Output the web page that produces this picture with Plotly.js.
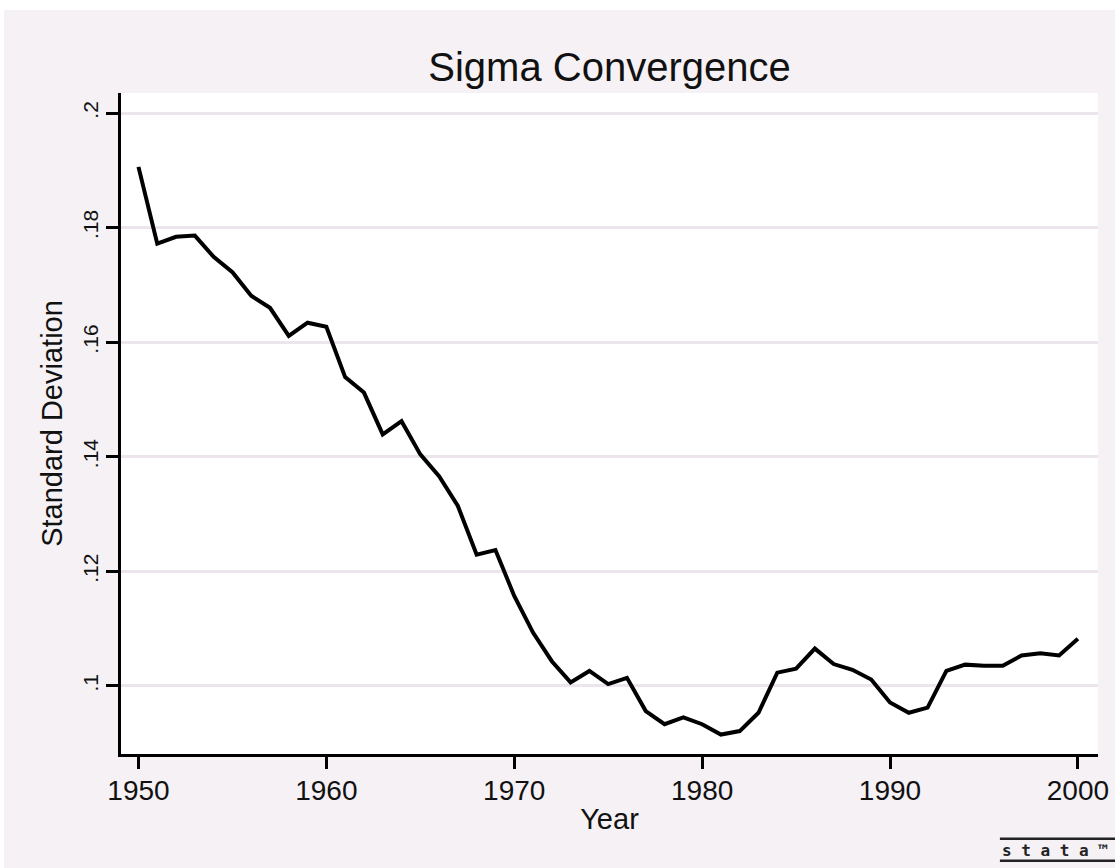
<!DOCTYPE html>
<html>
<head>
<meta charset="utf-8">
<script src="https://cdn.plot.ly/plotly-3.0.1.min.js"></script>
<style>
html,body{margin:0;padding:0;background:#ffffff;}
#chart{position:absolute;left:4px;top:10px;width:1111px;height:858px;}
</style>
</head>
<body>
<div id="chart"></div>
<script>
const years = [1950,1951,1952,1953,1954,1955,1956,1957,1958,1959,
               1960,1961,1962,1963,1964,1965,1966,1967,1968,1969,
               1970,1971,1972,1973,1974,1975,1976,1977,1978,1979,
               1980,1981,1982,1983,1984,1985,1986,1987,1988,1989,
               1990,1991,1992,1993,1994,1995,1996,1997,1998,1999,2000];
const stdDev = [0.1906,0.1772,0.1784,0.1786,0.1749,0.1722,0.1681,0.1660,0.1611,0.1634,
                0.1627,0.1539,0.1512,0.1439,0.1462,0.1404,0.1366,0.1314,0.1229,0.1237,
                0.1157,0.1093,0.1043,0.1006,0.1026,0.1003,0.1014,0.0956,0.0933,0.0945,
                0.0933,0.0915,0.0921,0.0953,0.1023,0.1030,0.1065,0.1038,0.1028,0.1011,
                0.0971,0.0953,0.0962,0.1026,0.1037,0.1035,0.1035,0.1053,0.1057,0.1053,0.1082];
const yTickVals = [0.1,0.12,0.14,0.16,0.18,0.2];
const yTickText = [".1",".12",".14",".16",".18",".2"];
const xTickVals = [1950,1960,1970,1980,1990,2000];

const font = "Liberation Sans, Arial, sans-serif";

const trace = {
  x: years, y: stdDev, type: 'scatter', mode: 'lines',
  line: {color: '#000000', width: 4}, hoverinfo: 'skip'
};

const layout = {
  width: 1111, height: 858,
  margin: {l: 117, r: 17, t: 83, b: 114},
  paper_bgcolor: '#f5f1f5',
  plot_bgcolor: '#ffffff',
  showlegend: false,
  title: {text: 'Sigma Convergence', font: {family: font, size: 40, color: '#111'},
          x: 0.5, xref: 'paper', y: 0.934, yref: 'container', yanchor: 'middle'},
  xaxis: {
    range: [1949.07, 2001.07], tickvals: xTickVals, ticktext: xTickVals.map(String),
    showgrid: false, zeroline: false,
    showline: true, linecolor: '#000', linewidth: 3,
    ticks: 'outside', ticklen: 12, tickwidth: 3, tickcolor: '#000',
    ticklabelstandoff: -3,
    tickfont: {family: font, size: 28, color: '#111'},
    title: {text: 'Year', font: {family: font, size: 29, color: '#111'}, standoff: 5}
  },
  yaxis: {
    range: [0.0881, 0.2035], tickvals: yTickVals, ticktext: yTickText,
    tickangle: -90,
    showgrid: true, gridcolor: '#ece6ec', gridwidth: 3,
    zeroline: false,
    showline: true, linecolor: '#000', linewidth: 3,
    ticks: 'outside', ticklen: 12, tickwidth: 3, tickcolor: '#000',
    tickfont: {family: font, size: 21, color: '#111'},
    title: {text: 'Standard Deviation', font: {family: font, size: 29, color: '#111'}, standoff: 8}
  },
  shapes: [
    {type: 'line', xref: 'paper', yref: 'paper', x0: 0.8996, x1: 1.02, y0: -0.1284, y1: -0.1284,
     line: {color: '#222', width: 2.5}},
    {type: 'line', xref: 'paper', yref: 'paper', x0: 0.8996, x1: 1.02, y0: -0.1616, y1: -0.1616,
     line: {color: '#222', width: 2.5}}
  ],
  annotations: [
    {text: '<b>s t a t a ™</b>', xref: 'paper', yref: 'paper', x: 0.8996, y: -0.1455, xanchor: 'left', yanchor: 'middle',
     showarrow: false, font: {family: 'DejaVu Sans Mono, monospace', size: 16, color: '#222'}}
  ]
};

Plotly.newPlot('chart', [trace], layout, {displayModeBar: false, staticPlot: true});
</script>
</body>
</html>
